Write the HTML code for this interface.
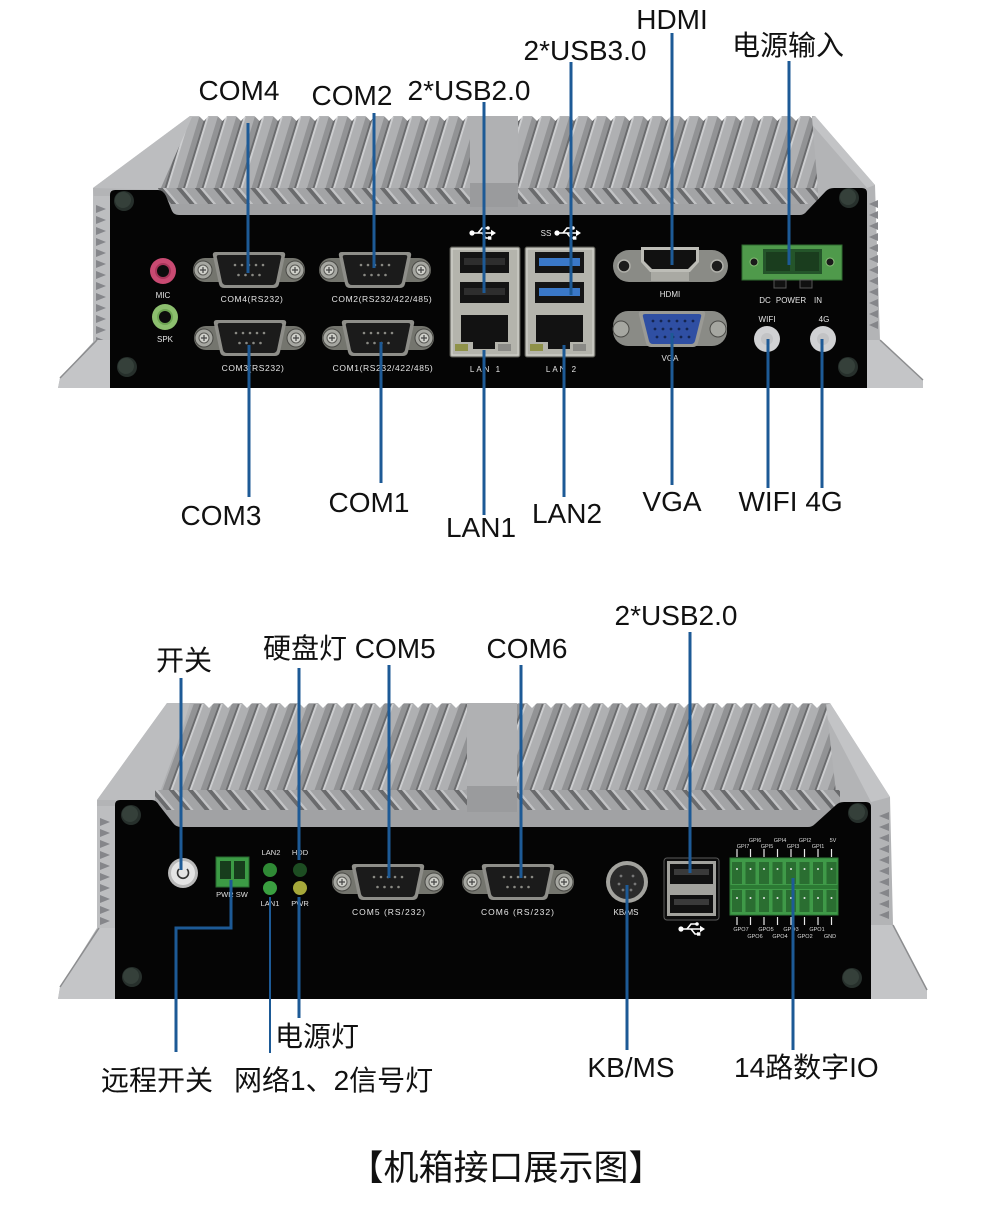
<!DOCTYPE html>
<html><head><meta charset="utf-8">
<style>
html,body{margin:0;padding:0;background:#fff;}
svg{display:block;}
text{font-family:"Liberation Sans","Noto Sans CJK SC",sans-serif;}
.lb{font-size:28px;fill:#111;}
.sm{font-size:8px;fill:#e4e4e4;}
.gp{font-size:5.5px;fill:#dcdcdc;text-anchor:middle;}
.bl{stroke:#1d5a96;stroke-width:3;fill:none;}
</style></head><body>
<svg width="990" height="1212" viewBox="0 0 990 1212" xmlns="http://www.w3.org/2000/svg">
<defs>
  <pattern id="finA" x="0" y="0" width="18.5" height="300" patternUnits="userSpaceOnUse" patternTransform="skewX(-17)">
    <rect width="18.5" height="300" fill="#afb0b2"/>
    <rect x="0" width="2" height="300" fill="#6a6b6d"/>
    <rect x="2" width="2" height="300" fill="#cdced0"/>
    <rect x="13" width="5.5" height="300" fill="#929395"/>
  </pattern>
  <pattern id="chevA" x="0" y="0" width="18.5" height="60" patternUnits="userSpaceOnUse" patternTransform="skewX(40)">
    <rect width="18.5" height="60" fill="#a3a4a6"/>
    <rect x="0" width="5" height="60" fill="#6a6b6d"/>
    <rect x="5" width="3" height="60" fill="#c2c3c5"/>
  </pattern>
  <pattern id="finB" x="0" y="0" width="19" height="300" patternUnits="userSpaceOnUse" patternTransform="skewX(-20)">
    <rect width="19" height="300" fill="#afb0b2"/>
    <rect x="0" width="2" height="300" fill="#6a6b6d"/>
    <rect x="2" width="2" height="300" fill="#cdced0"/>
    <rect x="13" width="6" height="300" fill="#929395"/>
  </pattern>
  <pattern id="chevB" x="0" y="0" width="19" height="60" patternUnits="userSpaceOnUse" patternTransform="skewX(40)">
    <rect width="19" height="60" fill="#a3a4a6"/>
    <rect x="0" width="5" height="60" fill="#6a6b6d"/>
    <rect x="5" width="3" height="60" fill="#c2c3c5"/>
  </pattern>
  <pattern id="sawA" x="190" y="116" width="18.5" height="6" patternUnits="userSpaceOnUse">
    <path d="M9,0 H18.5 L14,5 Z" fill="#fff"/>
  </pattern>
  <pattern id="sawB" x="195" y="703" width="19" height="6" patternUnits="userSpaceOnUse">
    <path d="M9,0 H19 L14,5 Z" fill="#fff"/>
  </pattern>
  <g id="scr">
    <circle r="10" fill="#27302c"/>
    <circle r="8" cx="-1" cy="-1" fill="#35403a"/>
  </g>
  <g id="db9">
    <rect x="-56" y="-12" width="112" height="24" rx="12" fill="#74756e"/>
    <circle cx="-46" cy="0" r="9" fill="#a6a7a1" stroke="#4a4a46"/>
    <circle cx="-46" cy="0" r="5" fill="#cfd0ca" stroke="#5a5a56"/>
    <path d="M-49,0h6M-46,-3v6" stroke="#444" stroke-width="1.2"/>
    <circle cx="46" cy="0" r="9" fill="#a6a7a1" stroke="#4a4a46"/>
    <circle cx="46" cy="0" r="5" fill="#cfd0ca" stroke="#5a5a56"/>
    <path d="M43,0h6M46,-3v6" stroke="#444" stroke-width="1.2"/>
    <path d="M-33,-18 L33,-18 Q37,-18 36,-14 L30,14 Q29,18 25,18 L-25,18 Q-29,18 -30,14 L-36,-14 Q-37,-18 -33,-18Z" fill="#8e8e89"/>
    <path d="M-30,-15 L30,-15 Q33,-15 32,-12 L27,12 Q26,15 23,15 L-23,15 Q-26,15 -27,12 L-32,-12 Q-33,-15 -30,-15Z" fill="#1b1b1b"/>
    <g fill="#8a8a84">
      <circle cx="-14" cy="-5" r="1.3"/><circle cx="-7" cy="-5" r="1.3"/><circle cx="0" cy="-5" r="1.3"/><circle cx="7" cy="-5" r="1.3"/><circle cx="14" cy="-5" r="1.3"/>
      <circle cx="-10.5" cy="5" r="1.3"/><circle cx="-3.5" cy="5" r="1.3"/><circle cx="3.5" cy="5" r="1.3"/><circle cx="10.5" cy="5" r="1.3"/>
    </g>
  </g>
  <g id="usbi" stroke="#fff" stroke-width="1.6" fill="none">
    <circle cx="-11" cy="0" r="2.6" fill="#fff" stroke="none"/>
    <path d="M-11,0H9"/>
    <path d="M13,0 L8,-3.2 L8,3.2Z" fill="#fff" stroke="none"/>
    <path d="M-5,0 L-1,-5 H4"/>
    <circle cx="5" cy="-5" r="1.8" fill="#fff" stroke="none"/>
    <path d="M-1,0 L3,5 H6"/>
    <rect x="5" y="3.3" width="3.4" height="3.4" fill="#fff" stroke="none"/>
  </g>
  <g id="usbblk">
    <rect x="0" y="0" width="70" height="110" rx="2" fill="#b4b4ac" stroke="#55554f"/>
    <rect x="2" y="2" width="66" height="106" fill="none" stroke="#d6d6cf" stroke-width="1"/>
    <rect x="10" y="5" width="49" height="21" fill="#141414"/>
    <rect x="10" y="35" width="49" height="21" fill="#141414"/>
    <rect x="11" y="68" width="47" height="27" fill="#121212"/>
    <rect x="23" y="94" width="22" height="8" fill="#121212"/>
    <rect x="5" y="97" width="13" height="7" fill="#8f9249"/>
    <rect x="48" y="97" width="13" height="7" fill="#8a8a86"/>
  </g>
</defs>

<!-- ================= TOP DEVICE ================= -->
<path d="M58,388 L60,378 L95,340 L93,188 L190,116 L815,116 L875,185 L880,340 L923,382 L923,388 Z" fill="#b3b4b6"/>
<path d="M93,188 L190,116 L200,116 L170,190 Z" fill="#bcbdbf"/>
<path d="M815,116 L875,185 L867,188 L808,120 Z" fill="#c3c4c6"/>
<polygon points="160,190 192,117 812,117 818,190" fill="url(#finA)"/>
<rect x="158" y="188" width="660" height="18" fill="url(#chevA)"/>
<rect x="158" y="204" width="660" height="11" fill="#a1a2a4"/>
<rect x="470" y="117" width="48" height="68" fill="#b0b1b3"/>
<rect x="470" y="183" width="48" height="24" fill="#9a9b9d"/>
<rect x="192" y="116" width="620" height="6" fill="url(#sawA)"/>
<rect x="470" y="116" width="48" height="6" fill="#b0b1b3"/>
<!-- side walls -->
<rect x="93" y="196" width="17" height="192" fill="#bdbec0"/>
<g fill="#85868a">
<path d="M96,205l10,4l-10,4z M96,216l10,4l-10,4z M96,227l10,4l-10,4z M96,238l10,4l-10,4z M96,249l10,4l-10,4z M96,260l10,4l-10,4z M96,271l10,4l-10,4z M96,282l10,4l-10,4z M96,293l10,4l-10,4z M96,304l10,4l-10,4z M96,315l10,4l-10,4z M96,326l10,4l-10,4z M96,337l10,4l-10,4z"/>
<path d="M878,200l-9,4l9,4z M878,211l-9,4l9,4z M878,222l-9,4l9,4z M878,233l-9,4l9,4z M878,244l-9,4l9,4z M878,255l-9,4l9,4z M878,266l-9,4l9,4z M878,277l-9,4l9,4z M878,288l-9,4l9,4z M878,299l-9,4l9,4z M878,310l-9,4l9,4z M878,321l-9,4l9,4z"/>
</g>
<!-- flanges -->
<path d="M58,388 L60,378 L97,340 L110,340 L110,388 Z" fill="#c4c5c7"/>
<path d="M60,378 L97,340" stroke="#8c8d8f" stroke-width="1.5"/>
<path d="M867,388 L867,340 L880,340 L923,380 L923,388 Z" fill="#c4c5c7"/>
<path d="M880,340 L923,380" stroke="#8c8d8f" stroke-width="1.5"/>
<!-- black panel -->
<path d="M115,190 L158,190 Q163,190 166,196 L172,211 Q174,215 179,215 L800,215 Q804,215 807,211 L826,191 Q829,188 834,188 L862,188 Q867,188 867,193 L867,388 L110,388 L110,195 Q110,190 115,190 Z" fill="#050505"/>
<use href="#scr" x="124" y="201"/>
<use href="#scr" x="127" y="367"/>
<use href="#scr" x="849" y="198"/>
<use href="#scr" x="848" y="367"/>

<!-- audio jacks -->
<circle cx="163" cy="271" r="13" fill="#c94a72"/>
<circle cx="163" cy="271" r="8" fill="#a8365a"/>
<circle cx="163" cy="271" r="6" fill="#0c0c0c"/>
<text x="163" y="298" class="sm" text-anchor="middle">MIC</text>
<circle cx="165" cy="317" r="13" fill="#8cbf6e"/>
<circle cx="165" cy="317" r="8" fill="#6ea553"/>
<circle cx="165" cy="317" r="6" fill="#0c0c0c"/>
<text x="165" y="342" class="sm" text-anchor="middle">SPK</text>

<!-- COM ports -->
<use href="#db9" x="249" y="270"/>
<use href="#db9" x="375" y="270"/>
<use href="#db9" x="250" y="338"/>
<use href="#db9" x="378" y="338"/>
<g font-size="8.5" fill="#e6e6e6" text-anchor="middle" letter-spacing="0.6">
<text x="252" y="302">COM4(RS232)</text>
<text x="382" y="302">COM2(RS232/422/485)</text>
<text x="253" y="371">COM3(RS232)</text>
<text x="383" y="371">COM1(RS232/422/485)</text>
</g>

<!-- USB / LAN blocks -->
<use href="#usbblk" x="450" y="247"/>
<use href="#usbblk" x="525" y="247"/>
<rect x="539" y="258" width="41" height="8" fill="#3a78c8"/>
<rect x="539" y="288" width="41" height="8" fill="#3a78c8"/>
<rect x="464" y="258" width="41" height="7" fill="#2e2e2e"/>
<rect x="464" y="288" width="41" height="7" fill="#2e2e2e"/>
<use href="#usbi" x="483" y="233"/>
<text x="546" y="236" font-size="8" fill="#e6e6e6" text-anchor="middle">SS</text>
<use href="#usbi" x="568" y="233"/>
<g font-size="8" fill="#e6e6e6" text-anchor="middle" letter-spacing="2">
<text x="486" y="372">LAN 1</text>
<text x="562" y="372">LAN 2</text>
</g>

<!-- HDMI -->
<rect x="613" y="250" width="115" height="32" rx="16" fill="#8a8b86"/>
<circle cx="624" cy="266" r="6" fill="#1c1c1c" stroke="#b0b0aa" stroke-width="1.5"/>
<circle cx="717" cy="266" r="6" fill="#1c1c1c" stroke="#b0b0aa" stroke-width="1.5"/>
<path d="M641,247 H699 V262 L690,272 H650 L641,262 Z" fill="#bdbdb7"/>
<path d="M644,250 H696 V261 L688,269 H652 L644,261 Z" fill="#111"/>
<rect x="651" y="272" width="38" height="9" fill="#a9a9a3"/>
<text x="670" y="297" class="sm" text-anchor="middle">HDMI</text>

<!-- VGA -->
<rect x="613" y="311" width="114" height="35" rx="15" fill="#8a8b86"/>
<circle cx="621" cy="329" r="8" fill="#a6a7a1" stroke="#4a4a46"/>
<circle cx="718" cy="329" r="8" fill="#a6a7a1" stroke="#4a4a46"/>
<path d="M642,311 H702 Q706,311 705,315 L698,343 Q697,347 693,347 H651 Q647,347 646,343 L639,315 Q638,311 642,311Z" fill="#9a9a95"/>
<path d="M645,314 H699 Q702,314 701,317 L695,341 Q694,344 691,344 H653 Q650,344 649,341 L643,317 Q642,314 645,314Z" fill="#2f4fa3"/>
<g fill="#15254f">
<circle cx="653" cy="321" r="1.4"/><circle cx="661" cy="321" r="1.4"/><circle cx="669" cy="321" r="1.4"/><circle cx="677" cy="321" r="1.4"/><circle cx="685" cy="321" r="1.4"/><circle cx="693" cy="321" r="1.4"/>
<circle cx="655" cy="329" r="1.4"/><circle cx="663" cy="329" r="1.4"/><circle cx="671" cy="329" r="1.4"/><circle cx="679" cy="329" r="1.4"/><circle cx="687" cy="329" r="1.4"/>
<circle cx="657" cy="337" r="1.4"/><circle cx="665" cy="337" r="1.4"/><circle cx="673" cy="337" r="1.4"/><circle cx="681" cy="337" r="1.4"/><circle cx="689" cy="337" r="1.4"/>
</g>
<text x="670" y="361" class="sm" text-anchor="middle">VGA</text>

<!-- DC power -->
<rect x="742" y="245" width="100" height="35" fill="#4f9a4b" stroke="#2f6a30"/>
<rect x="763" y="249" width="59" height="25" fill="#24552a"/>
<rect x="766" y="252" width="24" height="19" fill="#1a3d1e"/>
<rect x="795" y="252" width="24" height="19" fill="#1a3d1e"/>
<circle cx="754" cy="262" r="4" fill="#1a1a1a" stroke="#8cbf7a"/>
<circle cx="830" cy="262" r="4" fill="#1a1a1a" stroke="#8cbf7a"/>
<rect x="774" y="280" width="12" height="8" fill="#111" stroke="#555"/>
<rect x="800" y="280" width="12" height="8" fill="#111" stroke="#555"/>
<g class="sm" text-anchor="middle" font-size="8" fill="#e6e6e6">
<text x="765" y="303">DC</text>
<text x="791" y="303">POWER</text>
<text x="818" y="303">IN</text>
<text x="767" y="322">WIFI</text>
<text x="824" y="322">4G</text>
</g>
<circle cx="767" cy="339" r="13" fill="#d0d1d3"/>
<circle cx="767" cy="339" r="6" fill="#c2c3c5"/>
<circle cx="823" cy="339" r="13" fill="#d0d1d3"/>
<circle cx="823" cy="339" r="6" fill="#c2c3c5"/>

<!-- top leader lines -->
<path class="bl" d="M248,123V273 M374,113V268 M484,102V293 M571,62V295 M672,33V265 M789,61V265"/>
<path class="bl" d="M249,345V497 M381,342V483 M484,350V515 M564,345V497 M672,333V485 M768,339V488 M822,339V488"/>

<!-- top labels -->
<g class="lb">
<text x="239" y="100" text-anchor="middle">COM4</text>
<text x="352" y="105" text-anchor="middle">COM2</text>
<text x="469" y="100" text-anchor="middle">2*USB2.0</text>
<text x="585" y="60" text-anchor="middle">2*USB3.0</text>
<text x="672" y="29" text-anchor="middle">HDMI</text>
<text x="788" y="55" text-anchor="middle">电源输入</text>
<text x="221" y="525" text-anchor="middle">COM3</text>
<text x="369" y="512" text-anchor="middle">COM1</text>
<text x="481" y="537" text-anchor="middle">LAN1</text>
<text x="567" y="523" text-anchor="middle">LAN2</text>
<text x="672" y="511" text-anchor="middle">VGA</text>
<text x="768" y="511" text-anchor="middle">WIFI</text>
<text x="824" y="511" text-anchor="middle">4G</text>
</g>

<!-- ================= BOTTOM DEVICE ================= -->
<path d="M58,999 L60,987 L97,928 L97,800 L167,703 L830,703 L890,797 L893,925 L927,990 L927,999 Z" fill="#b3b4b6"/>
<path d="M97,800 L167,703 L190,703 L160,800 Z" fill="#bcbdbf"/>
<path d="M830,703 L890,797 L871,802 L822,708 Z" fill="#c3c4c6"/>
<polygon points="160,792 192,704 826,704 836,792" fill="url(#finB)"/>
<rect x="155" y="790" width="685" height="22" fill="url(#chevB)"/>
<rect x="155" y="810" width="685" height="17" fill="#a1a2a4"/>
<rect x="467" y="704" width="50" height="84" fill="#b0b1b3"/>
<rect x="467" y="786" width="50" height="26" fill="#9a9b9d"/>
<rect x="195" y="703" width="630" height="6" fill="url(#sawB)"/>
<rect x="467" y="703" width="50" height="6" fill="#b0b1b3"/>
<rect x="97" y="806" width="18" height="193" fill="#bdbec0"/>
<g fill="#85868a">
<path d="M100,818l10,4l-10,4z M100,829l10,4l-10,4z M100,840l10,4l-10,4z M100,851l10,4l-10,4z M100,862l10,4l-10,4z M100,873l10,4l-10,4z M100,884l10,4l-10,4z M100,895l10,4l-10,4z M100,906l10,4l-10,4z M100,917l10,4l-10,4z"/>
<path d="M889,812l-10,4l10,4z M889,823l-10,4l10,4z M889,834l-10,4l10,4z M889,845l-10,4l10,4z M889,856l-10,4l10,4z M889,867l-10,4l10,4z M889,878l-10,4l10,4z M889,889l-10,4l10,4z M889,900l-10,4l10,4z M889,911l-10,4l10,4z"/>
</g>
<path d="M58,999 L60,987 L99,928 L115,928 L115,999 Z" fill="#c4c5c7"/>
<path d="M60,987 L99,928" stroke="#8c8d8f" stroke-width="1.5"/>
<path d="M871,999 L871,925 L893,925 L927,990 L927,999 Z" fill="#c4c5c7"/>
<path d="M893,925 L927,990" stroke="#8c8d8f" stroke-width="1.5"/>
<path d="M120,800 L152,800 Q156,800 159,805 L173,823 Q176,827 181,827 L808,827 Q812,827 815,824 L836,805 Q839,802 844,802 L866,802 Q871,802 871,807 L871,999 L115,999 L115,805 Q115,800 120,800 Z" fill="#050505"/>
<use href="#scr" x="131" y="815"/>
<use href="#scr" x="132" y="977"/>
<use href="#scr" x="858" y="813"/>
<use href="#scr" x="852" y="978"/>

<!-- power button -->
<circle cx="183" cy="873" r="15" fill="#b9b9b9"/>
<circle cx="183" cy="873" r="12" fill="#e4e4e4"/>
<path d="M179,869 A5.5,5.5 0 1 0 187,869" stroke="#333" stroke-width="1.6" fill="none"/>
<!-- PWR SW -->
<rect x="216" y="857" width="33" height="30" fill="#3c9b45" stroke="#276a2e"/>
<rect x="220" y="861" width="11" height="18" fill="#173d1c"/>
<rect x="234" y="861" width="11" height="18" fill="#173d1c"/>
<text x="232" y="897" font-size="7.5" fill="#e0e0e0" text-anchor="middle">PWR SW</text>
<!-- LEDs -->
<g font-size="7.5" fill="#e0e0e0" text-anchor="middle">
<text x="271" y="855">LAN2</text>
<text x="300" y="855">HDD</text>
<text x="270" y="906">LAN1</text>
<text x="300" y="906">PWR</text>
</g>
<circle cx="270" cy="870" r="7" fill="#2f8a35"/>
<circle cx="300" cy="870" r="7" fill="#1d4d22"/>
<circle cx="270" cy="888" r="7" fill="#3aa040"/>
<circle cx="300" cy="888" r="7" fill="#a6a83a"/>

<!-- COM5/6 -->
<use href="#db9" x="388" y="882"/>
<use href="#db9" x="518" y="882"/>
<g font-size="8.5" fill="#e6e6e6" text-anchor="middle" letter-spacing="1">
<text x="389" y="915">COM5 (RS/232)</text>
<text x="518" y="915">COM6 (RS/232)</text>
</g>
<!-- KB/MS -->
<circle cx="627" cy="882" r="21" fill="#a3a39e"/>
<circle cx="627" cy="882" r="17" fill="#2b2b2b"/>
<g fill="#777"><circle cx="621" cy="876" r="1.4"/><circle cx="633" cy="876" r="1.4"/><circle cx="619" cy="884" r="1.4"/><circle cx="635" cy="884" r="1.4"/><circle cx="623" cy="890" r="1.4"/><circle cx="631" cy="890" r="1.4"/></g>
<text x="626" y="915" font-size="8" fill="#e6e6e6" text-anchor="middle">KB/MS</text>
<!-- dual USB -->
<rect x="664" y="858" width="55" height="62" rx="3" fill="#0c0c0c" stroke="#5a5a5a"/>
<rect x="667" y="861" width="49" height="55" fill="#a2a29d"/>
<rect x="670" y="864" width="43" height="20" fill="#111"/>
<rect x="674" y="869" width="35" height="6" fill="#3a3a3a"/>
<rect x="670" y="895" width="43" height="18" fill="#111"/>
<rect x="674" y="899" width="35" height="6" fill="#3a3a3a"/>
<use href="#usbi" x="692" y="929"/>
<!-- GPIO -->
<rect x="730" y="858" width="108" height="57" fill="#3f9a48" stroke="#2e7a36"/>
<g fill="#2a6e31">
<rect x="732" y="862" width="10" height="22"/><rect x="745.5" y="862" width="10" height="22"/><rect x="759" y="862" width="10" height="22"/><rect x="772.5" y="862" width="10" height="22"/><rect x="786" y="862" width="10" height="22"/><rect x="799.5" y="862" width="10" height="22"/><rect x="813" y="862" width="10" height="22"/><rect x="826.5" y="862" width="10" height="22"/>
<rect x="732" y="890" width="10" height="22"/><rect x="745.5" y="890" width="10" height="22"/><rect x="759" y="890" width="10" height="22"/><rect x="772.5" y="890" width="10" height="22"/><rect x="786" y="890" width="10" height="22"/><rect x="799.5" y="890" width="10" height="22"/><rect x="813" y="890" width="10" height="22"/><rect x="826.5" y="890" width="10" height="22"/>
</g>
<rect x="730" y="885" width="108" height="4" fill="#2c7a34"/>
<g fill="#e8e8e8">
<circle cx="737" cy="869" r="1"/><circle cx="750.5" cy="869" r="1"/><circle cx="764" cy="869" r="1"/><circle cx="777.5" cy="869" r="1"/><circle cx="791" cy="869" r="1"/><circle cx="804.5" cy="869" r="1"/><circle cx="818" cy="869" r="1"/><circle cx="831.5" cy="869" r="1"/>
<circle cx="737" cy="898" r="1"/><circle cx="750.5" cy="898" r="1"/><circle cx="764" cy="898" r="1"/><circle cx="777.5" cy="898" r="1"/><circle cx="791" cy="898" r="1"/><circle cx="804.5" cy="898" r="1"/><circle cx="818" cy="898" r="1"/><circle cx="831.5" cy="898" r="1"/>
</g>
<path d="M737,849v8M750.5,849v8M764,849v8M777.5,849v8M791,849v8M804.5,849v8M818,849v8M831.5,849v8 M737,917v8M750.5,917v8M764,917v8M777.5,917v8M791,917v8M804.5,917v8M818,917v8M831.5,917v8" stroke="#e8e8e8" stroke-width="1.2"/>
<g class="gp">
<text x="755" y="842">GPI6</text><text x="780" y="842">GPI4</text><text x="805" y="842">GPI2</text><text x="833" y="842">5V</text>
<text x="743" y="848">GPI7</text><text x="767" y="848">GPI5</text><text x="793" y="848">GPI3</text><text x="818" y="848">GPI1</text>
<text x="741" y="931">GPO7</text><text x="766" y="931">GPO5</text><text x="791" y="931">GPO3</text><text x="817" y="931">GPO1</text>
<text x="755" y="938">GPO6</text><text x="780" y="938">GPO4</text><text x="805" y="938">GPO2</text><text x="830" y="938">GND</text>
</g>

<!-- bottom leader lines -->
<path class="bl" d="M181,678V870 M299,668V860 M389,665V878 M521,665V878 M690,632V873"/>
<path class="bl" d="M231,880V928H176V1052 M299,897V1018 M627,885V1050 M793,878V1050"/>
<path d="M270,897V1053" stroke="#1d5a96" stroke-width="2" fill="none"/>

<!-- bottom labels -->
<g class="lb">
<text x="184" y="670" text-anchor="middle">开关</text>
<text x="263" y="658">硬盘灯 COM5</text>
<text x="527" y="658" text-anchor="middle">COM6</text>
<text x="676" y="625" text-anchor="middle">2*USB2.0</text>
<text x="275" y="1046">电源灯</text>
<text x="101" y="1090">远程开关</text>
<text x="234" y="1090">网络1、2信号灯</text>
<text x="631" y="1077" text-anchor="middle">KB/MS</text>
<text x="734" y="1077">14路数字IO</text>
</g>
<text x="506" y="1180" font-size="35" fill="#111" text-anchor="middle">【机箱接口展示图】</text>
</svg>
</body></html>
